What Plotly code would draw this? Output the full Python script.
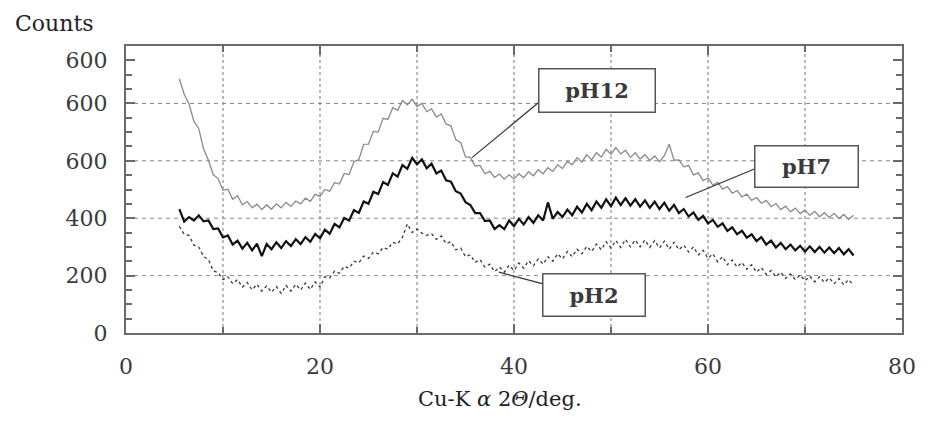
import plotly.graph_objects as go

# 2-theta sampling positions (deg), 5.5 .. 75.0 step 0.5
two_theta = [5.5 + 0.5 * i for i in range(140)]

ph12 = [885, 832, 798, 738, 712, 641, 602, 551, 538, 497,
        501, 466, 478, 447, 458, 436, 449, 430, 446, 431,
        450, 436, 455, 441, 460, 450, 470, 459, 483, 476,
        500, 494, 524, 519, 556, 552, 597, 604, 657, 658,
        703, 700, 748, 744, 785, 776, 810, 795, 815, 790,
        800, 771, 781, 752, 763, 728, 722, 674, 664, 614,
        612, 582, 584, 555, 563, 542, 554, 536, 551, 537,
        555, 541, 562, 548, 569, 555, 576, 563, 586, 573,
        598, 586, 611, 596, 621, 604, 628, 613, 640, 623,
        646, 624, 637, 612, 628, 606, 621, 601, 617, 597,
        618, 658, 602, 603, 579, 584, 551, 558, 531, 540,
        515, 525, 501, 510, 487, 496, 474, 484, 462, 472,
        452, 462, 440, 451, 430, 442, 422, 435, 416, 429,
        410, 424, 405, 419, 402, 417, 399, 413, 396, 410]

ph7 = [432, 388, 404, 392, 410, 389, 392, 362, 364, 333,
       340, 308, 322, 294, 314, 288, 311, 268, 310, 292,
       316, 296, 320, 303, 327, 310, 334, 318, 345, 330,
       360, 346, 380, 368, 401, 392, 428, 418, 458, 450,
       492, 484, 526, 516, 556, 545, 585, 572, 610, 588,
       605, 574, 590, 556, 566, 532, 527, 494, 486, 456,
       446, 418, 418, 390, 392, 362, 376, 362, 392, 372,
       398, 378, 404, 384, 410, 392, 455, 398, 422, 404,
       430, 410, 440, 420, 450, 428, 458, 436, 466, 442,
       472, 446, 470, 444, 466, 440, 462, 436, 458, 432,
       454, 426, 446, 418, 432, 406, 420, 394, 408, 382,
       394, 370, 382, 356, 368, 344, 356, 332, 344, 320,
       334, 308, 322, 298, 314, 292, 308, 288, 304, 284,
       302, 282, 300, 280, 298, 278, 296, 274, 292, 270]

ph2 = [372, 344, 340, 306, 300, 266, 256, 216, 210, 186,
       196, 172, 186, 160, 176, 150, 170, 146, 164, 142,
       162, 138, 166, 146, 170, 150, 174, 152, 178, 160,
       196, 192, 216, 208, 232, 226, 250, 244, 268, 260,
       282, 276, 298, 292, 316, 310, 334, 380, 350, 362,
       348, 340, 346, 326, 338, 312, 318, 290, 296, 266,
       272, 246, 256, 230, 240, 214, 230, 212, 236, 218,
       244, 226, 252, 234, 258, 240, 266, 250, 276, 258,
       284, 266, 292, 276, 302, 284, 310, 290, 318, 296,
       322, 298, 326, 300, 324, 300, 324, 298, 322, 296,
       320, 292, 316, 290, 306, 282, 300, 272, 288, 260,
       276, 248, 266, 238, 254, 230, 246, 222, 238, 212,
       228, 204, 218, 196, 212, 190, 206, 186, 202, 182,
       198, 178, 196, 176, 192, 172, 190, 168, 186, 166]

x_tickvals = [0, 20, 40, 60, 80]
x_ticktext = ["0", "20", "40", "60", "80"]
y_tickvals = [0, 200, 400, 600, 800, 950]
y_ticktext = ["0", "200", "400", "600", "600", "600"]
x_grid = [10, 20, 30, 40, 50, 60, 70]
y_grid = [200, 400, 600, 800]

# label boxes: (text, box centre x, box centre y, pointer start, pointer end, w, h)
labels = [
    ("pH12", 48.6, 844, (42.5, 802), (35.67, 611), 115, 42),
    ("pH7", 70.2, 580, (64.9, 573), (57.7, 472), 102, 40),
    ("pH2", 48.2, 133, (42.9, 172), (38.45, 212), 101, 41),
]

FONT = "DejaVu Serif"
TXT = "#3a3a3a"

fig = go.Figure()
fig.add_trace(go.Scatter(x=two_theta, y=ph12, mode="lines",
                         line=dict(color="#8a8a8a", width=1.3), showlegend=False))
fig.add_trace(go.Scatter(x=two_theta, y=ph2, mode="lines",
                         line=dict(color="#3a3a3a", width=1.3, dash="dot"), showlegend=False))
fig.add_trace(go.Scatter(x=two_theta, y=ph7, mode="lines",
                         line=dict(color="#111111", width=2.2), showlegend=False))

shapes = []
for g in y_grid:
    shapes.append(dict(type="line", xref="paper", yref="y", x0=0, x1=1, y0=g, y1=g,
                       line=dict(color="#888888", width=1, dash="4px,4px"), layer="below"))
for g in x_grid:
    shapes.append(dict(type="line", xref="x", yref="paper", x0=g, x1=g, y0=0, y1=1,
                       line=dict(color="#8c8c8c", width=1.2, dash="dot"), layer="below"))
annotations = []
for text, cx, cy, p0, p1, w, h in labels:
    shapes.append(dict(type="line", xref="x", yref="y", x0=p0[0], y0=p0[1], x1=p1[0], y1=p1[1],
                       line=dict(color="#333333", width=1.2)))
    annotations.append(dict(x=cx, y=cy, xref="x", yref="y", text="<b>%s</b>" % text,
                            showarrow=False, font=dict(family=FONT, size=21, color=TXT),
                            bgcolor="white", bordercolor="#555555", borderwidth=1.5,
                            borderpad=0, width=w, height=h, align="center", valign="middle"))

annotations.append(dict(x=-0.145, y=1.08, xref="paper", yref="paper", text="Counts",
                        showarrow=False, xanchor="left", yanchor="middle",
                        font=dict(family=FONT, size=22, color="#222222")))
annotations.append(dict(x=0.4815, y=-0.23, xref="paper", yref="paper",
                        text="Cu-K <i>α</i> 2<i>Θ</i>/deg.",
                        showarrow=False, xanchor="center", yanchor="middle",
                        font=dict(family=FONT, size=21, color="#222222")))

fig.update_layout(
    width=920, height=412,
    margin=dict(l=118, r=17, t=38, b=87),
    paper_bgcolor="white", plot_bgcolor="white",
    shapes=shapes, annotations=annotations,
    showlegend=False,
    xaxis=dict(range=[0, 80], tickmode="array", tickvals=x_tickvals, ticktext=x_ticktext,
               showgrid=False, zeroline=False, showline=True, linecolor="#6a6a6a", linewidth=2,
               mirror="ticks", ticks="inside", ticklen=9, tickcolor="#6a6a6a", tickwidth=1.5,
               minor=dict(dtick=10, tick0=0, ticks="inside", ticklen=6, tickcolor="#6a6a6a"),
               tickfont=dict(family=FONT, size=22, color=TXT), ticklabelstandoff=13),
    yaxis=dict(range=[0, 1000], tickmode="array", tickvals=y_tickvals, ticktext=y_ticktext,
               showgrid=False, zeroline=False, showline=True, linecolor="#6a6a6a", linewidth=2,
               mirror="ticks", ticks="inside", ticklen=9, tickcolor="#6a6a6a", tickwidth=1.5,
               minor=dict(dtick=50, tick0=0, ticks="inside", ticklen=6, tickcolor="#6a6a6a"),
               tickfont=dict(family=FONT, size=22, color=TXT), ticklabelstandoff=12),
)

fig.write_html("out.html")
